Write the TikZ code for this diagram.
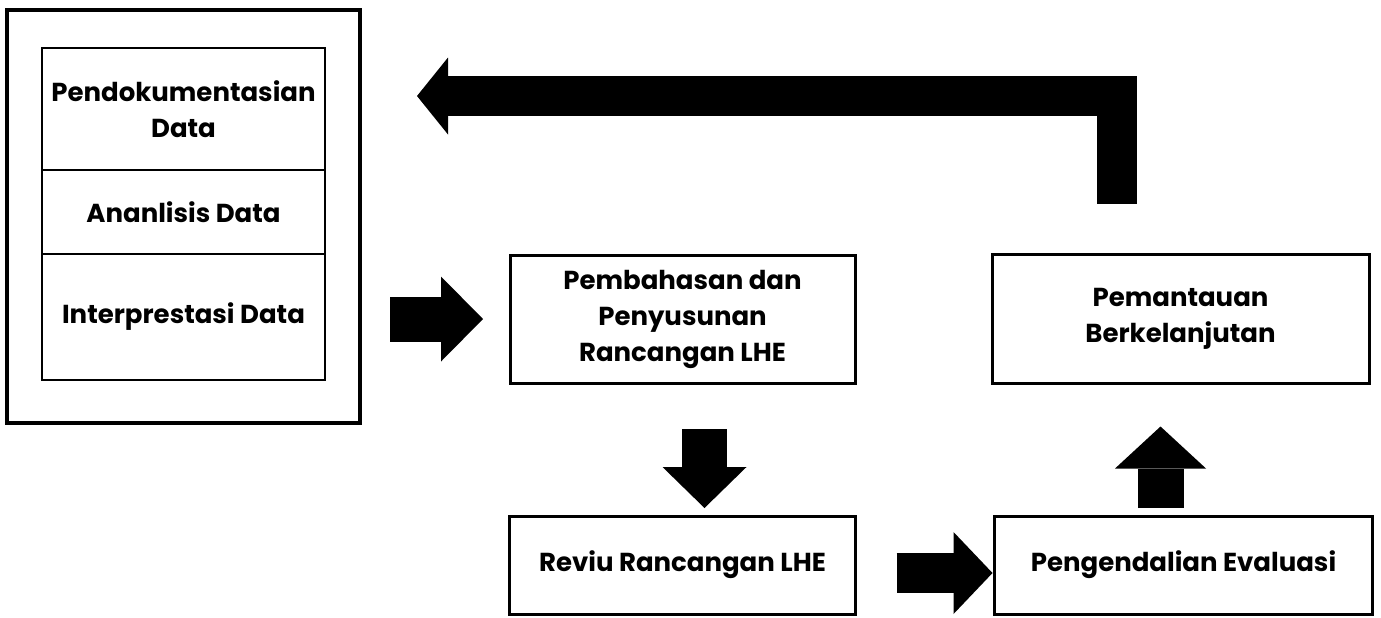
\documentclass[tikz,border=0pt]{standalone}
\usepackage{fontspec}
\setmainfont{Poppins}
\usepackage{tikz}
\usetikzlibrary{arrows.meta, positioning, calc}
\tikzset{
	framebox/.style={rectangle, draw=black, line width=2pt, outer sep=0pt,
		minimum width=176.5pt, minimum height=206.5pt},
	datacell/.style={rectangle, draw=black, line width=1pt, outer sep=0pt,
		minimum width=141.5pt, align=center,
		font=\bfseries\fontsize{13}{18}\selectfont},
	stepbox/.style={rectangle, draw=black, line width=1.5pt, outer sep=0pt,
		align=center, font=\bfseries\fontsize{13}{18}\selectfont},
	blockarrow/.style={line width=22.5pt,
		-{Triangle[length=21pt, width=42.5pt, line width=0pt]}},
	backarrow/.style={line width=20pt, line join=miter,
		-{Triangle[length=15.5pt, width=38.5pt, line width=0pt]}}
}
\begin{document}
\begin{tikzpicture}[x=0.5pt, y=-0.5pt]
			\useasboundingbox (0,0) rectangle (1381,617);

			\node[framebox] (outer) at (183.5,216.5) {};
			\node[datacell, minimum height=61pt] (doc) at (183.5,109)
			{Pendokumentasian\\Data};
			\node[datacell, minimum height=42pt, below=0pt of doc] (ana)
			{Ananlisis Data};
			\node[datacell, minimum height=63pt, below=0pt of ana] (interp)
			{Interprestasi Data};

			\node[stepbox, minimum width=172.5pt, minimum height=64pt] (pemb) at (682.5,319)
			{Pembahasan dan\\Penyusunan\\Rancangan LHE};
			\node[stepbox, minimum width=173pt, minimum height=49pt, below=66.5pt of pemb] (reviu)
			{Reviu Rancangan LHE};
			\node[stepbox, minimum width=189pt, minimum height=49pt, right=69.5pt of reviu] (peng)
			{Pengendalian Evaluasi};
			\node[stepbox, minimum width=188.5pt, minimum height=64.5pt, right=68.5pt of pemb] (pem)
			{Pemantauan\\Berkelanjutan};

			\draw[blockarrow, shorten <=15pt, shorten >=13.5pt] (outer.east |- pemb) -- (pemb.west);
			\draw[blockarrow, -{Triangle[length=20.5pt, width=42pt, line width=0pt]},
			shorten <=23pt, shorten >=4pt] ([xshift=11pt]pemb.south) -- ([xshift=11pt]pemb.south |- reviu.north);
			\draw[blockarrow, line width=20pt, -{Triangle[length=19.5pt, width=41pt, line width=0pt]},
			shorten <=20.5pt, shorten >=1pt] ([yshift=-4pt]reviu.east) -- ([yshift=-4pt]reviu.east -| peng.west);
			\draw[blockarrow, line width=23pt, -{Triangle[length=21pt, width=45.5pt, line width=0pt]},
			shorten <=4pt, shorten >=21.5pt] ([xshift=-11.5pt]peng.north) -- ([xshift=-11.5pt]peng.north |- pem.south);
			\draw[backarrow, shorten <=25.5pt, shorten >=28.5pt]
			([xshift=-31.75pt]pem.north) |- ([yshift=-43pt]outer.north east);
		\end{tikzpicture}
\end{document}
